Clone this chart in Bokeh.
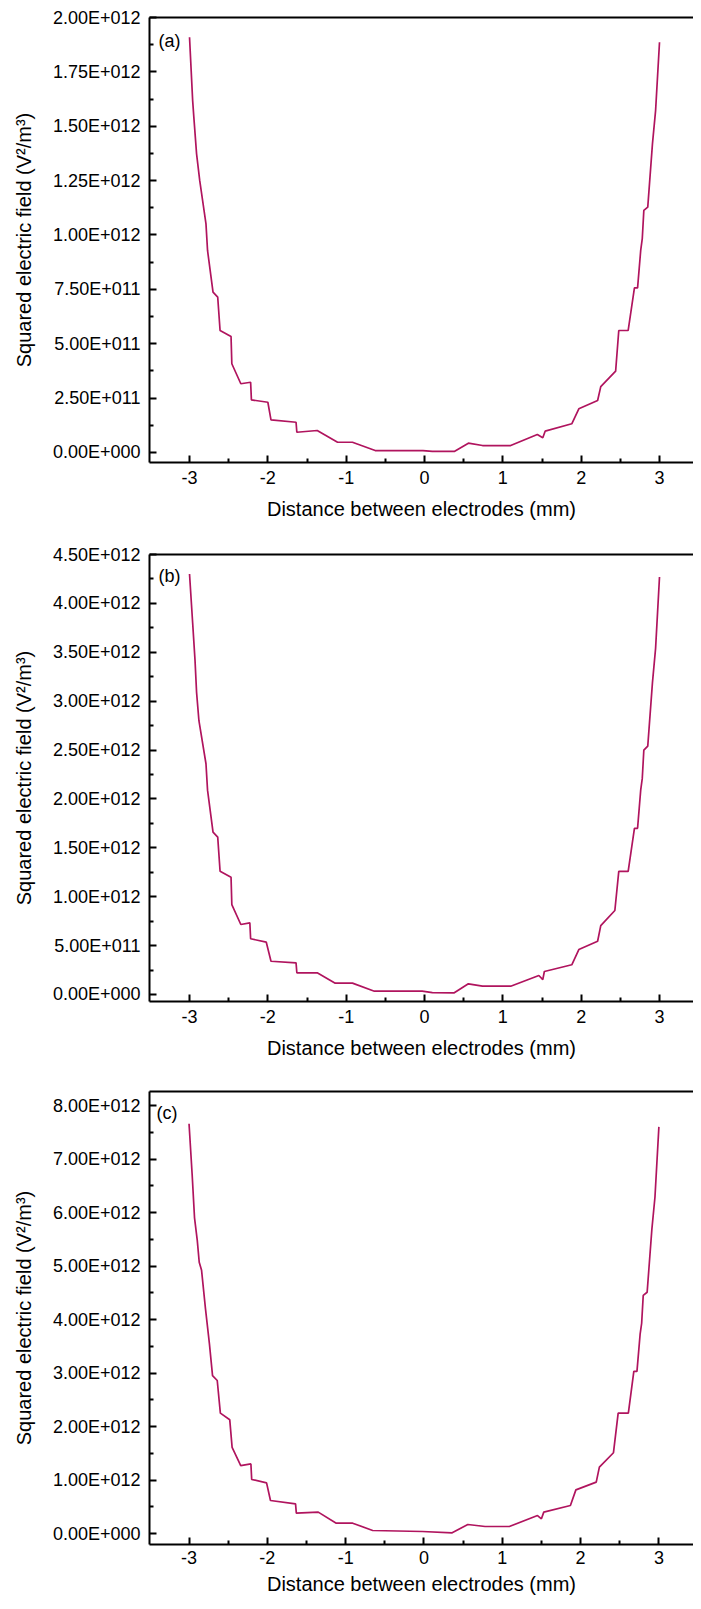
from bokeh.plotting import figure
from bokeh.models import LinearAxis, FixedTicker, Label, Range1d, CustomJSTickFormatter
from bokeh.layouts import column
from bokeh.embed import file_html
from bokeh.resources import INLINE

# ---------------- data (y in units of 1E+012 V^2/m^3) ----------------
xa = [-3.00, -2.96, -2.945, -2.91, -2.87, -2.79, -2.77, -2.70, -2.64, -2.61, -2.47, -2.46,
      -2.345, -2.22, -2.21, -2.00, -1.96, -1.64, -1.63, -1.37, -1.11, -0.92, -0.63, -0.02,
      0.10, 0.38, 0.56, 0.74, 1.10, 1.44, 1.51, 1.54, 1.88, 1.97, 2.21, 2.25, 2.44, 2.48,
      2.60, 2.68, 2.72, 2.76, 2.78, 2.80, 2.85, 2.91, 2.95, 3.00]
ya = [1.909, 1.618, 1.542, 1.373, 1.251, 1.051, 0.929, 0.737, 0.714, 0.561, 0.533, 0.408,
      0.316, 0.323, 0.242, 0.231, 0.150, 0.139, 0.093, 0.101, 0.047, 0.047, 0.009, 0.009,
      0.005, 0.005, 0.043, 0.032, 0.032, 0.083, 0.068, 0.098, 0.132, 0.201, 0.239, 0.303,
      0.374, 0.561, 0.561, 0.757, 0.757, 0.929, 0.983, 1.113, 1.128, 1.419, 1.572, 1.886]

xb = [-3.00, -2.96, -2.93, -2.91, -2.88, -2.79, -2.77, -2.70, -2.64, -2.61, -2.47, -2.46,
      -2.345, -2.23, -2.22, -2.02, -1.96, -1.64, -1.63, -1.37, -1.14, -0.92, -0.64, -0.03,
      0.10, 0.38, 0.56, 0.74, 1.10, 1.46, 1.51, 1.53, 1.88, 1.97, 2.21, 2.25, 2.43, 2.48,
      2.60, 2.68, 2.72, 2.76, 2.78, 2.80, 2.85, 2.91, 2.95, 3.00]
yb = [4.30, 3.80, 3.42, 3.09, 2.80, 2.36, 2.09, 1.66, 1.61, 1.26, 1.20, 0.92,
      0.716, 0.733, 0.570, 0.535, 0.340, 0.324, 0.222, 0.222, 0.116, 0.116, 0.034, 0.034,
      0.020, 0.017, 0.109, 0.085, 0.085, 0.194, 0.153, 0.235, 0.304, 0.460, 0.545, 0.705,
      0.859, 1.26, 1.26, 1.70, 1.70, 2.09, 2.21, 2.50, 2.54, 3.19, 3.54, 4.27]

xc = [-3.00, -2.96, -2.93, -2.895, -2.87, -2.84, -2.79, -2.74, -2.70, -2.64, -2.60, -2.48,
      -2.45, -2.34, -2.21, -2.20, -2.01, -1.96, -1.64, -1.63, -1.35, -1.12, -0.91, -0.655,
      -0.02, 0.36, 0.56, 0.78, 1.09, 1.45, 1.50, 1.53, 1.87, 1.94, 2.20, 2.24, 2.42, 2.48,
      2.61, 2.68, 2.72, 2.76, 2.78, 2.80, 2.85, 2.91, 2.95, 3.00]
yc = [7.66, 6.70, 5.90, 5.48, 5.07, 4.92, 4.20, 3.55, 2.95, 2.86, 2.25, 2.125,
      1.61, 1.27, 1.30, 1.01, 0.947, 0.617, 0.555, 0.38, 0.40, 0.193, 0.193, 0.056,
      0.037, 0.013, 0.168, 0.131, 0.131, 0.336, 0.274, 0.40, 0.523, 0.816, 0.96, 1.24,
      1.51, 2.25, 2.25, 3.03, 3.03, 3.72, 3.93, 4.45, 4.51, 5.68, 6.29, 7.60]

UNIT = 1e12
x_ticks = [-3, -2, -1, 0, 1, 2, 3]
x_minor = [-2.5, -1.5, -0.5, 0.5, 1.5, 2.5]
ya_ticks = [0.0, 0.25, 0.5, 0.75, 1.0, 1.25, 1.5, 1.75, 2.0]
yb_ticks = [0.0, 0.5, 1.0, 1.5, 2.0, 2.5, 3.0, 3.5, 4.0, 4.5]
yc_ticks = [0.0, 1.0, 2.0, 3.0, 4.0, 5.0, 6.0, 7.0, 8.0]
panel_tags = ["(a)", "(b)", "(c)"]
x_title = "Distance between electrodes (mm)"
y_title = "Squared electric field (V\u00b2/m\u00b3)"

FONT = "Liberation Sans"
LINE_COLOR = "#b0145e"

yfmt = CustomJSTickFormatter(code="""
    if (Math.abs(tick) < 1) { return "0.00E+000"; }
    const e = Math.floor(Math.log10(Math.abs(tick)) + 1e-9);
    const m = tick / Math.pow(10, e);
    const es = (e < 0 ? "-" : "+") + String(Math.abs(e)).padStart(3, "0");
    return m.toFixed(2) + "E" + es;
""")
xfmt = CustomJSTickFormatter(code="""
    return String(Math.round(tick));
""")


def make_panel(xs, ys, yticks, xr, yr, height, mb_left, mb_top, mb_bottom,
               tag, tag_xy, lab_standoff, title_standoff):
    ymaj = [t * UNIT for t in yticks]
    step = (yticks[1] - yticks[0]) / 2.0
    ymin = [(t + step) * UNIT for t in yticks[:-1]]
    p = figure(width=693, height=height, output_backend="svg", toolbar_location=None,
               x_range=Range1d(*xr), y_range=Range1d(yr[0] * UNIT, yr[1] * UNIT),
               min_border_left=mb_left, min_border_right=0,
               min_border_top=mb_top, min_border_bottom=mb_bottom,
               x_axis_label=x_title, y_axis_label=y_title)
    p.line([float(v) for v in xs], [v * UNIT for v in ys], line_color=LINE_COLOR, line_width=1.7)
    p.outline_line_color = None
    p.grid.visible = False
    p.background_fill_color = "white"
    p.border_fill_color = "white"

    for ax in (p.xaxis[0], p.yaxis[0]):
        ax.axis_line_width = 2
        ax.axis_line_color = "black"
        ax.major_tick_in = 7
        ax.major_tick_out = 0
        ax.minor_tick_in = 4
        ax.minor_tick_out = 0
        ax.major_tick_line_width = 2
        ax.minor_tick_line_width = 2
        ax.major_tick_line_color = "black"
        ax.minor_tick_line_color = "black"
        ax.major_label_text_font = FONT
        ax.major_label_text_font_size = "18px"
        ax.major_label_text_color = "black"
        ax.axis_label_text_font = FONT
        ax.axis_label_text_font_size = "20px"
        ax.axis_label_text_font_style = "normal"
        ax.axis_label_text_color = "black"

    p.xaxis[0].ticker = FixedTicker(ticks=x_ticks, minor_ticks=x_minor)
    p.xaxis[0].formatter = xfmt
    p.xaxis[0].major_label_standoff = lab_standoff
    p.xaxis[0].axis_label_standoff = title_standoff
    p.yaxis[0].ticker = FixedTicker(ticks=ymaj, minor_ticks=ymin)
    p.yaxis[0].formatter = yfmt
    p.yaxis[0].major_label_standoff = 9
    p.yaxis[0].axis_label_standoff = 15

    top = LinearAxis(ticker=FixedTicker(ticks=[]), axis_line_width=2, axis_line_color="black",
                     major_tick_out=0, major_tick_in=0, minor_tick_out=0, minor_tick_in=0,
                     major_label_text_font_size="0px", major_label_standoff=0)
    p.add_layout(top, "above")

    p.add_layout(Label(x=tag_xy[0], y=tag_xy[1] * UNIT, text=tag, text_font=FONT,
                       text_font_size="18px", text_color="black",
                       text_align="left", text_baseline="middle"))
    return p


pa = make_panel(xa, ya, ya_ticks, (-3.511, 3.434), (-0.046, 2.0), 536, 149, 17, 74,
                panel_tags[0], (-3.396, 1.894), 8, 11)
pb = make_panel(xb, yb, yb_ticks, (-3.511, 3.434), (-0.0716, 4.5), 536, 149, 18, 71,
                panel_tags[1], (-3.396, 4.285), 8, 11)
pc = make_panel(xc, yc, yc_ticks, (-3.505, 3.442), (-0.2056, 8.262), 529, 143, 19, 57,
                panel_tags[2], (-3.417, 7.851), 6, 6)

layout = column(pa, pb, pc)
open("out.html", "w").write(file_html(layout, INLINE))
